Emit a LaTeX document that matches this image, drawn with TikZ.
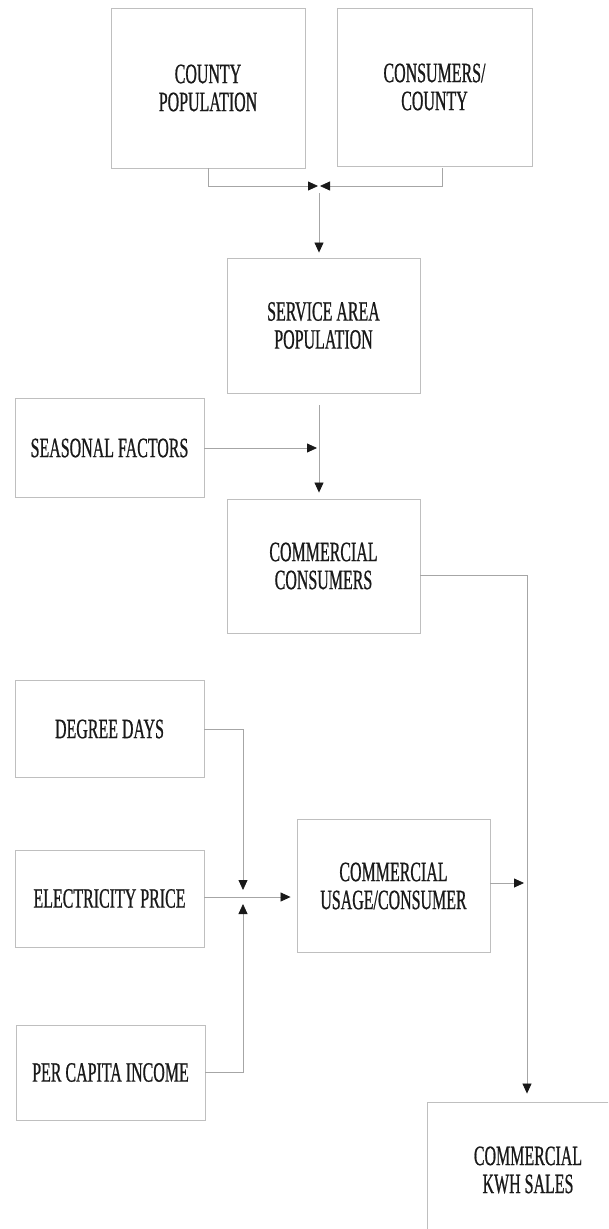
\documentclass[tikz,border=0pt]{standalone}
\usepackage{fontspec}
\setmainfont[FakeStretch=0.57,FakeBold=0.7]{Liberation Serif}
\usetikzlibrary{arrows.meta}
\begin{document}
\begin{tikzpicture}[x=1pt,y=-1pt,
  box/.style={draw=black!25,line width=0.9pt,rectangle,align=center,inner sep=0pt,
    font=\fontsize{28}{28}\selectfont,text=black!90},
  conn/.style={draw=black!35,line width=0.8pt},
  arr/.style={conn,-{Triangle[length=10pt,width=9pt,fill=black!90,color=black!90]}}]
\clip (0,0) rectangle (608,1229);
\useasboundingbox (0,0) rectangle (608,1229);
\node[box,minimum width=194pt,minimum height=160pt] (cp) at (208,88) {COUNTY\\POPULATION};
\node[box,minimum width=195pt,minimum height=158pt] (cc) at (434.5,87) {CONSUMERS/\\COUNTY};
\node[box,minimum width=193pt,minimum height=135pt] (sa) at (323.5,325.5) {SERVICE AREA\\POPULATION};
\node[box,minimum width=189pt,minimum height=99pt] (sf) at (109.5,448) {SEASONAL FACTORS};
\node[box,minimum width=193pt,minimum height=134pt] (com) at (323.5,566) {COMMERCIAL\\CONSUMERS};
\node[box,minimum width=189pt,minimum height=97pt] (dd) at (109.5,729) {DEGREE DAYS};
\node[box,minimum width=189pt,minimum height=97pt] (ep) at (109.5,898.5) {ELECTRICITY PRICE};
\node[box,minimum width=193pt,minimum height=133pt] (us) at (393.5,886) {COMMERCIAL\\USAGE/CONSUMER};
\node[box,minimum width=189pt,minimum height=95pt] (pci) at (110.5,1072.5) {PER CAPITA INCOME};
\node[box,minimum width=202pt,minimum height=136pt] (kwh) at (528,1170) {COMMERCIAL\\KWH SALES};
\coordinate (J) at (319,186);
\coordinate (K) at (243,897);
\coordinate (R) at (527,575);
\coordinate (ccb) at (442,168);
% top merge
\draw[arr,shorten >=1pt] (cp.south) |- (J);
\draw[arr,shorten >=1pt] (ccb) |- (J);
\draw[arr,shorten <=7pt,shorten >=5pt] (J) -- (J |- sa.north);
% service area -> commercial consumers
\draw[arr,shorten <=12pt,shorten >=6pt] (sa.south -| J) -- (J |- com.north);
\draw[arr,shorten >=2pt] (sf.east) -- (sf.east -| J);
% commercial consumers -> kwh
\draw[arr,shorten >=8pt] (com.east |- R) -- (R) -- (R |- kwh.north);
\draw[arr,shorten >=3pt] (us.east |- 0,883) -- (R |- 0,883);
% usage inputs
\draw[arr,shorten >=7pt] (dd.east) -| (K);
\draw[arr,shorten >=7pt] (pci.east) -| (K);
\draw[arr,shorten >=6pt] (ep.east |- K) -- (K -| us.west);
\end{tikzpicture}
\end{document}
